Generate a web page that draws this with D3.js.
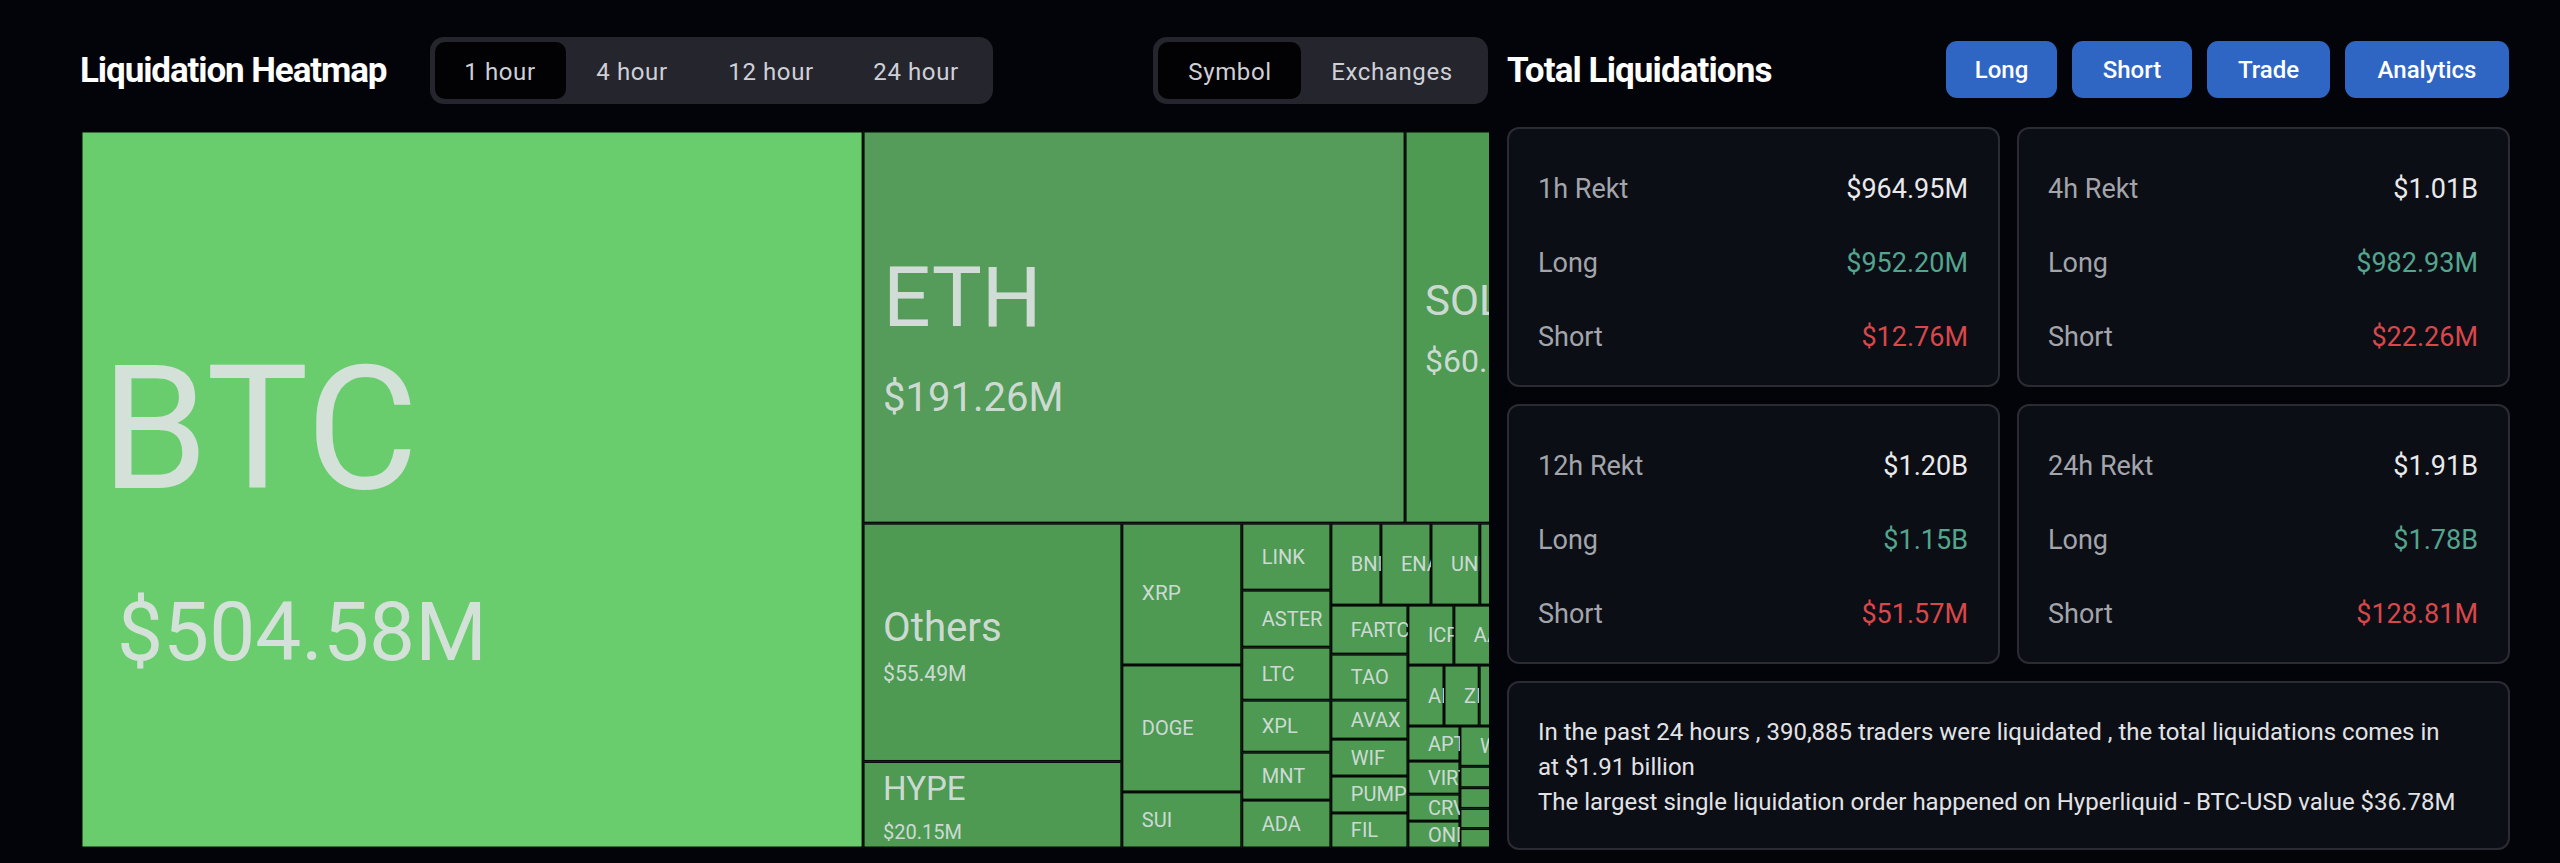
<!DOCTYPE html>
<html>
<head>
<meta charset="utf-8">
<script src="https://cdn.jsdelivr.net/npm/d3@7"></script>
<style>
html, body { margin: 0; padding: 0; background: #03030a; }
svg { display: block; font-family: Roboto, "Noto Sans", sans-serif; }
</style>
</head>
<body>
<svg id="page" width="2560" height="863"></svg>
<script>
// heatmap cells, biggest first. cells past the right edge are cut off in the picture, names unknown
var symbols = ["BTC","ETH","SOL","Others","HYPE","XRP","DOGE","SUI","LINK","ASTER","LTC","XPL","MNT","ADA",
  "BNB","ENA","UNI","","","FARTCOIN","TAO","AVAX","WIF","PUMP","FIL",
  "ICP","AAVE","","","ARB","ZEC","","","","APT","VIRTUAL","CRV","ONDO","WLD","DOT","ATOM","ETC",
  "","","","","","","","","","","","","","","","",""];
var amounts = [504.58,191.26,60.32,55.49,20.15,15.3,13.7,6.05,5.37,4.57,4.25,4.17,3.84,3.84,
  3.69,3.69,3.6,3.55,3.54,3.4,3.19,2.7,2.56,2.56,2.43,
  2.48,2.38,2.11,2.1,1.98,1.93,1.77,1.77,1.77,1.64,1.55,1.26,1.26,1.26,0.78,0.75,0.72,
  0.7,0.68,0.66,0.64,0.62,0.6,0.58,0.56,0.54,0.52,0.5,0.48,0.46,0.44,0.42,0.4,0.43];

var hourTabs = ["1 hour","4 hour","12 hour","24 hour"];
var groupTabs = ["Symbol","Exchanges"];
var actions = ["Long","Short","Trade","Analytics"];

var periods = ["1h Rekt","4h Rekt","12h Rekt","24h Rekt"];
var totals = ["$964.95M","$1.01B","$1.20B","$1.91B"];
var longs = ["$952.20M","$982.93M","$1.15B","$1.78B"];
var shorts = ["$12.76M","$22.26M","$51.57M","$128.81M"];

var summary = [
  "In the past 24 hours , 390,885 traders were liquidated , the total liquidations comes in",
  "at $1.91 billion",
  "The largest single liquidation order happened on Hyperliquid - BTC-USD value $36.78M"
];

var svg = d3.select("#page");

// ---- left header
svg.append("text").attr("x", 80).attr("y", 82).text("Liquidation Heatmap")
  .attr("fill", "#fff").attr("font-size", 35).attr("font-weight", 700).attr("letter-spacing", -1.1);

function tabs(labels, x0, x1, centers, activeEnd) {
  svg.append("rect").attr("x", x0).attr("y", 37).attr("width", x1 - x0).attr("height", 67)
    .attr("rx", 14).attr("fill", "#24252d");
  svg.append("rect").attr("x", x0 + 5).attr("y", 42).attr("width", activeEnd - x0 - 5).attr("height", 57)
    .attr("rx", 10).attr("fill", "#020204");
  svg.selectAll(null).data(labels).enter().append("text")
    .attr("x", function(d, i) { return centers[i]; })
    .attr("y", 80)
    .attr("text-anchor", "middle")
    .attr("fill", "#cfd0d6").attr("font-size", 24).attr("letter-spacing", 0.6)
    .text(function(d) { return d; });
}
tabs(hourTabs, 430, 993, [500, 632, 771, 916], 566);
tabs(groupTabs, 1153, 1488, [1230, 1392], 1301);

// ---- treemap, laid out wider than the panel and cut off at its right edge
var mapW = 1495, mapH = 717, viewW = 1408;
var cells = symbols.map(function(s, i) { return {name: s, value: amounts[i]}; });
var root = d3.hierarchy({children: cells}).sum(function(d) { return d.value; });
d3.treemap().size([mapW, mapH]).tile(d3.treemapSquarify)(root);

var fill = d3.scaleThreshold().domain([100, 500]).range(["#4e9a53", "#559b59", "#69cd6e"]);
var nameFont = d3.scaleLinear().domain([15, 20, 55, 60, 191, 504]).range([20, 33, 40, 42, 84, 172]).clamp(true);
var valueFont = d3.scaleLinear().domain([20, 55, 60, 191, 504]).range([20, 20, 32, 40, 82]).clamp(true);
var nameDy = d3.scaleLinear().domain([15, 20, 55, 60, 191, 504]).range([0, -16, -14.5, -27, -30, -61.5]).clamp(true);
var valueDy = d3.scaleLinear().domain([20, 55, 60, 191, 504]).range([27, 31.5, 34, 70, 141.5]).clamp(true);
var valueInset = d3.scaleLinear().domain([191, 504]).range([20, 36]).clamp(true);

var view = svg.append("svg").attr("x", 81).attr("y", 131).attr("width", viewW).attr("height", mapH);
var cell = view.selectAll("svg").data(root.leaves()).enter().append("svg")
  .attr("x", function(d) { return d.x0; })
  .attr("y", function(d) { return d.y0; })
  .attr("width", function(d) { return d.x1 - d.x0; })
  .attr("height", function(d) { return d.y1 - d.y0; });

cell.append("rect")
  .attr("width", function(d) { return d.x1 - d.x0; })
  .attr("height", function(d) { return d.y1 - d.y0; })
  .attr("fill", function(d) { return fill(d.value); })
  .attr("stroke", "#050a06").attr("stroke-width", 3);

cell.filter(function(d) { return d.data.name; }).append("text")
  .attr("x", 20)
  .attr("y", function(d) { return (d.y1 - d.y0) / 2 + nameDy(d.value); })
  .attr("dy", "0.35em")
  .attr("font-size", function(d) { return nameFont(d.value); })
  .attr("fill", "#dfe3e4").attr("fill-opacity", 0.9)
  .text(function(d) { return d.data.name; });

// only the larger cells carry the amount
cell.filter(function(d) { return d.value >= 20; }).append("text")
  .attr("x", function(d) { return valueInset(d.value); })
  .attr("y", function(d) { return (d.y1 - d.y0) / 2 + valueDy(d.value); })
  .attr("dy", "0.35em")
  .attr("font-size", function(d) { return valueFont(d.value); })
  .attr("fill", "#dfe3e4").attr("fill-opacity", 0.9)
  .text(function(d) { return "$" + d.value.toFixed(2) + "M"; });

// ---- right side
svg.append("text").attr("x", 1507).attr("y", 82).text("Total Liquidations")
  .attr("fill", "#fff").attr("font-size", 35).attr("font-weight", 700).attr("letter-spacing", -0.9);

var actionX = [1946, 2072, 2207, 2345];
var actionW = [111, 120, 123, 164];
var btn = svg.selectAll(null).data(actions).enter().append("g")
  .attr("transform", function(d, i) { return "translate(" + actionX[i] + ",41)"; });
btn.append("rect")
  .attr("width", function(d, i) { return actionW[i]; })
  .attr("height", 57).attr("rx", 11).attr("fill", "#2f66c4");
btn.append("text")
  .attr("x", function(d, i) { return actionW[i] / 2; })
  .attr("y", 29).attr("dy", "0.35em")
  .attr("text-anchor", "middle")
  .attr("fill", "#fff").attr("font-size", 24).attr("font-weight", 500)
  .text(function(d) { return d; });

var cardX = [1508, 2018, 1508, 2018];
var cardY = [128, 128, 405, 405];
var card = svg.selectAll(null).data(periods).enter().append("g")
  .attr("transform", function(d, i) { return "translate(" + cardX[i] + "," + cardY[i] + ")"; });
card.append("rect").attr("width", 491).attr("height", 258).attr("rx", 11)
  .attr("fill", "#0c0e15").attr("stroke", "#2a2b33").attr("stroke-width", 2);

function rowText(g, y, x, anchor, color, text) {
  g.append("text").attr("x", x).attr("y", y).attr("dy", "0.35em")
    .attr("text-anchor", anchor).attr("fill", color).attr("font-size", 27)
    .text(text);
}
card.each(function(d, i) {
  var g = d3.select(this);
  rowText(g, 61, 30, "start", "#a3a5ab", d);
  rowText(g, 135, 30, "start", "#a3a5ab", "Long");
  rowText(g, 209, 30, "start", "#a3a5ab", "Short");
  rowText(g, 61, 460, "end", "#e9e9ec", totals[i]);
  rowText(g, 135, 460, "end", "#53a58e", longs[i]);
  rowText(g, 209, 460, "end", "#d9474a", shorts[i]);
});

svg.append("rect").attr("x", 1508).attr("y", 682).attr("width", 1001).attr("height", 167).attr("rx", 11)
  .attr("fill", "#0c0e15").attr("stroke", "#2a2b33").attr("stroke-width", 2);
svg.selectAll(null).data(summary).enter().append("text")
  .attr("x", 1538)
  .attr("y", function(d, i) { return 732 + i * 35; })
  .attr("dy", "0.35em")
  .attr("fill", "#e2e3e6").attr("font-size", 24)
  .text(function(d) { return d; });
</script>
</body>
</html>
